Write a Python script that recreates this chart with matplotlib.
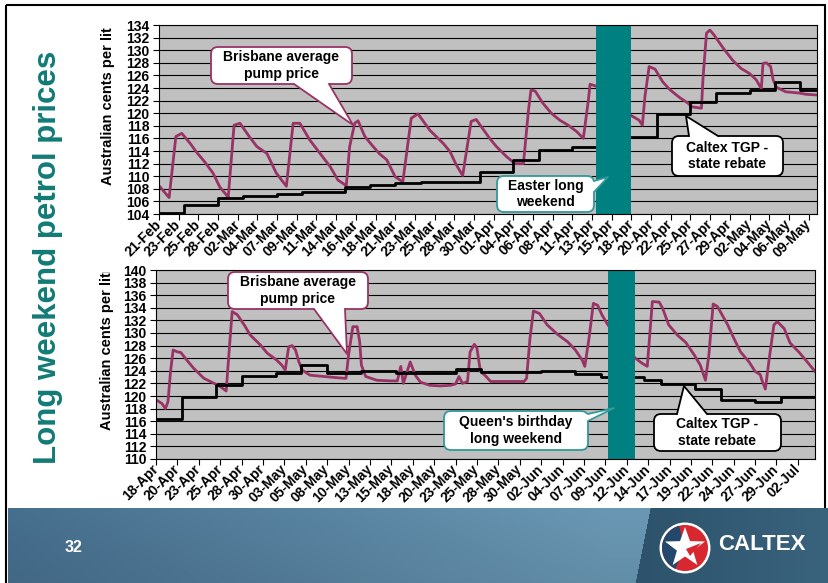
import numpy as np
import matplotlib
matplotlib.use("Agg")
import matplotlib.pyplot as plt
from matplotlib.patches import FancyBboxPatch, Polygon, Circle, Wedge, Rectangle
from matplotlib.lines import Line2D
from matplotlib.transforms import Affine2D, Bbox, TransformedBbox

plt.rcParams['font.family'] = ['Liberation Sans', 'DejaVu Sans']
plt.rcParams['font.weight'] = 'bold'

W, H = 829, 583
PLUM = '#993366'
TEAL = '#008080'

# ---- 21-Feb to 10-May (days counted from 21-Feb) ----
feb_labels = ['21-Feb', '23-Feb', '25-Feb', '28-Feb', '02-Mar', '04-Mar', '07-Mar', '09-Mar',
              '11-Mar', '14-Mar', '16-Mar', '18-Mar', '21-Mar', '23-Mar', '25-Mar', '28-Mar',
              '30-Mar', '01-Apr', '04-Apr', '06-Apr', '08-Apr', '11-Apr', '13-Apr', '15-Apr',
              '18-Apr', '20-Apr', '22-Apr', '25-Apr', '27-Apr', '29-Apr', '02-May', '04-May',
              '06-May', '09-May']
feb_pump_day = [0.0, 1.2, 2.0, 2.7, 3.7, 4.4, 5.4, 6.4, 7.2, 8.0, 8.2, 8.9, 9.6, 10.7, 11.6,
                12.8, 13.9, 15.1, 15.9, 16.7, 17.9, 19.1, 20.3, 21.2, 22.2, 22.6, 23.2, 23.6,
                24.4, 25.2, 26.1, 27.0, 28.0, 28.9, 29.9, 30.7, 32.1, 33.7, 34.5, 35.2, 36.0,
                37.0, 37.6, 39.2, 40.0, 41.2, 42.2, 43.2, 43.8, 44.1, 44.6, 45.5, 46.5, 47.5,
                48.5, 49.5, 50.3, 50.9, 51.1, 51.8, 53.2, 54.8, 56.0, 56.9, 57.3, 57.6, 58.1,
                58.8, 59.7, 60.5, 61.7, 62.7, 63.2, 64.3, 64.5, 64.9, 65.3, 65.8, 66.9, 68.0,
                69.0, 70.0, 70.8, 71.4, 71.6, 72.0, 72.5, 72.8, 73.2, 74.3, 75.9, 76.7, 77.9]
feb_pump = [108.5, 106.6, 116.3, 116.8, 115.2, 113.9, 112.3, 110.5, 108.3, 107.0, 106.6,
            118.1, 118.4, 116.3, 114.7, 113.6, 110.5, 108.4, 118.4, 118.4, 115.7, 113.6,
            111.5, 109.4, 108.5, 114.7, 118.4, 118.8, 116.3, 115.0, 113.6, 112.6, 109.9,
            109.1, 119.2, 119.9, 117.3, 115.2, 113.9, 111.9, 110.1, 118.7, 119.0, 116.0,
            114.7, 113.1, 112.0, 112.0, 120.5, 123.7, 123.5, 121.6, 120.0, 118.9, 118.1,
            117.1, 116.0, 122.1, 124.6, 124.3, 123.0, 121.0, 119.6, 118.9, 118.1, 122.6,
            127.4, 127.0, 125.0, 123.8, 122.5, 121.6, 121.0, 120.8, 125.8, 132.7, 133.2,
            132.4, 130.3, 128.4, 127.1, 126.3, 125.3, 123.9, 127.9, 128.0, 127.4, 125.3,
            124.1, 123.4, 123.2, 123.0, 122.9]
feb_tgp_day = [0, 3, 7, 10, 14, 17, 22, 25, 28, 31, 38, 42, 45, 49, 53, 59, 63, 66, 70, 73, 76]
feb_tgp = [104.2, 105.4, 106.5, 106.9, 107.1, 107.5, 108.3, 108.6, 108.9, 109.1, 110.6,
           112.5, 114.2, 114.6, 116.3, 119.9, 121.7, 123.2, 123.7, 125.0, 123.7]
easter = (51.8, 56.0)

# ---- 18-Apr to 04-Jul (days counted from 18-Apr) ----
apr_labels = ['18-Apr', '20-Apr', '23-Apr', '25-Apr', '28-Apr', '30-Apr', '03-May', '05-May',
              '08-May', '10-May', '13-May', '15-May', '18-May', '20-May', '23-May', '25-May',
              '28-May', '30-May', '02-Jun', '04-Jun', '07-Jun', '09-Jun', '12-Jun', '14-Jun',
              '17-Jun', '19-Jun', '22-Jun', '24-Jun', '27-Jun', '29-Jun', '02-Jul']
apr_pump_day = [0.0, 0.7, 1.1, 1.4, 1.7, 2.0, 2.5, 2.9, 3.6, 4.4, 5.6, 6.8, 7.5, 8.2, 8.6,
                8.9, 9.5, 10.3, 11.0, 12.2, 13.0, 14.1, 14.7, 15.1, 15.5, 15.9, 16.3, 16.7,
                17.1, 18.0, 19.6, 21.2, 22.2, 22.5, 23.0, 23.5, 23.8, 24.0, 24.5, 25.8, 27.4,
                28.2, 28.6, 28.9, 29.7, 30.3, 30.9, 32.0, 33.2, 34.4, 35.0, 35.4, 35.8, 36.4,
                36.7, 37.2, 37.5, 37.9, 38.5, 39.1, 41.0, 43.0, 43.3, 43.7, 44.1, 44.8, 45.7,
                46.9, 48.1, 49.0, 49.8, 50.1, 50.6, 51.1, 51.6, 52.1, 52.7, 54.3, 56.0, 56.8,
                57.4, 58.0, 58.8, 59.2, 59.9, 60.9, 61.9, 62.9, 63.6, 64.2, 64.6, 65.1, 65.6,
                66.8, 67.5, 68.3, 69.3, 70.0, 70.6, 70.8, 71.2, 71.6, 72.2, 72.6, 73.4, 74.1,
                75.1, 76.1, 77.0]
apr_pump = [119.4, 118.8, 118.0, 119.1, 123.9, 127.3, 127.0, 126.9, 125.7, 124.4, 122.8,
            122.0, 121.5, 120.8, 128.1, 133.4, 132.9, 131.3, 129.7, 128.1, 126.8, 125.7,
            124.9, 124.1, 127.8, 128.0, 127.3, 125.4, 124.1, 123.3, 123.1, 122.9, 122.8,
            126.5, 131.0, 131.0, 128.6, 124.9, 123.1, 122.5, 122.4, 122.4, 124.7, 122.0,
            125.4, 123.3, 122.2, 121.7, 121.6, 121.7, 121.9, 123.1, 122.0, 122.3, 127.0,
            128.2, 127.6, 123.9, 123.2, 122.3, 122.3, 122.3, 122.8, 129.2, 133.5, 133.1,
            131.3, 129.8, 128.6, 127.3, 125.7, 124.7, 129.2, 134.7, 134.4, 132.9, 131.5,
            128.5, 126.0, 125.2, 124.7, 135.0, 134.9, 133.9, 131.3, 129.7, 128.5, 126.5,
            124.9, 122.5, 126.5, 134.6, 134.2, 131.3, 129.2, 127.0, 125.4, 123.9, 123.4,
            122.5, 121.1, 125.4, 131.3, 131.8, 130.7, 128.4, 127.0, 125.4, 123.9]
apr_tgp_day = [0, 3, 7, 10, 14, 17, 20, 24, 28, 35, 38, 45, 49, 52, 57, 59, 63, 66, 70, 73]
apr_tgp = [116.4, 119.8, 121.8, 123.2, 123.6, 124.9, 123.6, 124.0, 123.7, 124.3, 123.8,
           124.0, 123.5, 123.0, 122.5, 121.9, 121.1, 119.4, 119.1, 119.8]
queens_bday = (52.8, 56.0)

fig = plt.figure(figsize=(W / 100, H / 100), dpi=100)
# pixel positions measured from the top-left corner
pix = Affine2D().scale(1 / W, -1 / H).translate(0, 1) + fig.transFigure


def panel(box, labels, tick_step, xmax, ymin, ymax, pump_day, pump, tgp_day, tgp, holiday):
    x0, y0, x1, y1 = box
    ax = fig.add_axes([x0 / W, 1 - y1 / H, (x1 - x0) / W, (y1 - y0) / H])
    ax.set_facecolor('#c0c0c0')
    ax.plot(pump_day, pump, color=PLUM, lw=2, zorder=1.5, solid_joinstyle='round')
    ax.step(tgp_day + [xmax], tgp + [tgp[-1]], where='post', color='black', lw=2, zorder=1.8)
    ax.axvspan(holiday[0], holiday[1], color=TEAL, lw=0, zorder=2)
    ax.set_xlim(0, xmax)
    ax.set_ylim(ymin, ymax)
    ax.set_yticks(np.arange(ymin, ymax + 1, 2))
    ax.yaxis.grid(True, color='black', lw=0.8)
    ax.set_axisbelow(True)
    ax.set_xticks(np.arange(len(labels)) * tick_step)
    ax.set_xticklabels(labels, rotation=45, ha='right', va='center', rotation_mode='anchor')
    ax.tick_params(axis='both', length=4, width=0.8, labelsize=10, colors='black')
    ax.tick_params(axis='x', pad=2)
    ax.tick_params(axis='y', pad=3)
    for s in ax.spines.values():
        s.set_color('black')
        s.set_linewidth(0.8)
    return ax


def ylabel(x, y_bottom, y_clip):
    # the label runs past the top of the slide area and gets cut off there
    t = fig.text(x / W, 1 - y_bottom / H, 'Australian cents per litre', rotation=90,
                 ha='center', va='bottom', fontsize=10.5, fontweight='bold')
    t.set_clip_box(TransformedBbox(Bbox.from_extents(0, 0, 1, 1 - y_clip / H), fig.transFigure))
    t.set_clip_on(True)


def callout(box, side, base, tip, text, edge):
    x0, y0, x1, y1 = box
    fig.add_artist(FancyBboxPatch((x0, y0), x1 - x0, y1 - y0,
                                  boxstyle='round,pad=0,rounding_size=7', transform=pix,
                                  fc='white', ec=edge, lw=1.3, zorder=10))
    a, b = base
    if side == 'bottom':
        p1, p2, d = (a, y1), (b, y1), (0, -3)
    elif side == 'top':
        p1, p2, d = (a, y0), (b, y0), (0, 3)
    else:
        p1, p2, d = (x1, a), (x1, b), (-3, 0)
    shape = [(p1[0] + d[0], p1[1] + d[1]), p1, tip, p2, (p2[0] + d[0], p2[1] + d[1])]
    fig.add_artist(Polygon(shape, closed=True, transform=pix, fc='white', ec='none', zorder=11))
    fig.add_artist(Line2D([p1[0], tip[0], p2[0]], [p1[1], tip[1], p2[1]], transform=pix,
                          color=edge, lw=1.3, zorder=12))
    fig.text((x0 + x1) / 2 / W, 1 - (y0 + y1) / 2 / H, text, ha='center', va='center',
             fontsize=10, linespacing=1.25, zorder=13)


panel((159, 25, 817, 214), feb_labels, 7 / 3, 78, 104, 134,
      feb_pump_day, feb_pump, feb_tgp_day, feb_tgp, easter)
panel((156, 270, 815, 459), apr_labels, 2.5, 77, 110, 140,
      apr_pump_day, apr_pump, apr_tgp_day, apr_tgp, queens_bday)

ylabel(108, 185, 28)
ylabel(107, 430, 272)

callout((211, 47, 352, 84), 'bottom', (294, 329), (353, 125), 'Brisbane average\npump price', PLUM)
callout((497, 176, 594, 212), 'right', (181, 192), (608, 177), 'Easter long\nweekend', '#339999')
callout((672, 136, 783, 176), 'top', (689, 718), (686, 116), 'Caltex TGP -\nstate rebate', 'black')
callout((228, 272, 368, 309), 'bottom', (314, 345), (347, 354), 'Brisbane average\npump price', PLUM)
callout((444, 411, 588, 450), 'right', (414, 421), (614, 408), "Queen's birthday\nlong weekend", '#339999')
callout((654, 414, 781, 451), 'top', (677, 707), (684, 386), 'Caltex TGP -\nstate rebate', 'black')

# slide title
fig.text(48 / W, 1 - 257 / H, 'Long weekend petrol prices', rotation=90, ha='center',
         va='center', fontsize=22.5, color='#127b76')

# slide frame
fig.add_artist(Rectangle((6.5, 5), 819, 590, transform=pix, fill=False, ec='black', lw=1.5, zorder=0))

# footer band
cols = np.arange(8, W)
rows = np.arange(75)
left = np.array([0x46, 0x6f, 0x8e]) / 255
light = np.array([0x6a, 0x98, 0xb4]) / 255
dark_a = np.array([0x2d, 0x53, 0x6c]) / 255
dark_b = np.array([0x3a, 0x63, 0x7d]) / 255
t = np.clip((cols - 8) / 600, 0, 1)[None, :, None]
img = left + (light - left) * t
img = img * (1 - 0.07 * rows / 75)[:, None, None]
edge = 650 - 15 * rows[:, None] / 75
s = np.clip((cols[None, :] - 640) / 190, 0, 1)[..., None]
dark = dark_a + (dark_b - dark_a) * s
mask = (cols[None, :] > edge)[..., None]
img = np.where(mask, dark, img)
foot = fig.add_axes([8 / W, 0, (W - 8) / W, 75 / H])
foot.imshow(img, aspect='auto', interpolation='bilinear')
foot.axis('off')

fig.text(74 / W, 1 - 547 / H, '32', color='white', fontsize=11.5, ha='center', va='center')

# Caltex hallmark
up = Affine2D().scale(1 / W, 1 / H) + fig.transFigure
cx, cy = 685, H - 548
fig.add_artist(Circle((cx, cy), 25.5, transform=up, fc='white', ec='none', zorder=20))
fig.add_artist(Circle((cx, cy), 23, transform=up, fc='#d7282f', ec='none', zorder=21))
fig.add_artist(Wedge((cx, cy), 23, 105, 245, transform=up, fc='#23486c', ec='none', zorder=22))
ang = np.deg2rad(90 + 36 * np.arange(10))
rad = np.where(np.arange(10) % 2 == 0, 21, 8.5)
star = np.column_stack([cx + rad * np.cos(ang), cy + rad * np.sin(ang)])
fig.add_artist(Polygon(star, closed=True, transform=up, fc='white', ec='none', zorder=23))
fig.add_artist(Polygon([(cx + 1, cy - 1), (cx + 16, cy + 5), (cx + 5, cy - 8)], closed=True,
                       transform=up, fc='#d7282f', ec='none', zorder=24))
fig.text(762 / W, 1 - 544 / H, 'CALTEX', color='white', fontsize=16, ha='center', va='center',
         zorder=25)

fig.savefig('out.png', dpi=100)
